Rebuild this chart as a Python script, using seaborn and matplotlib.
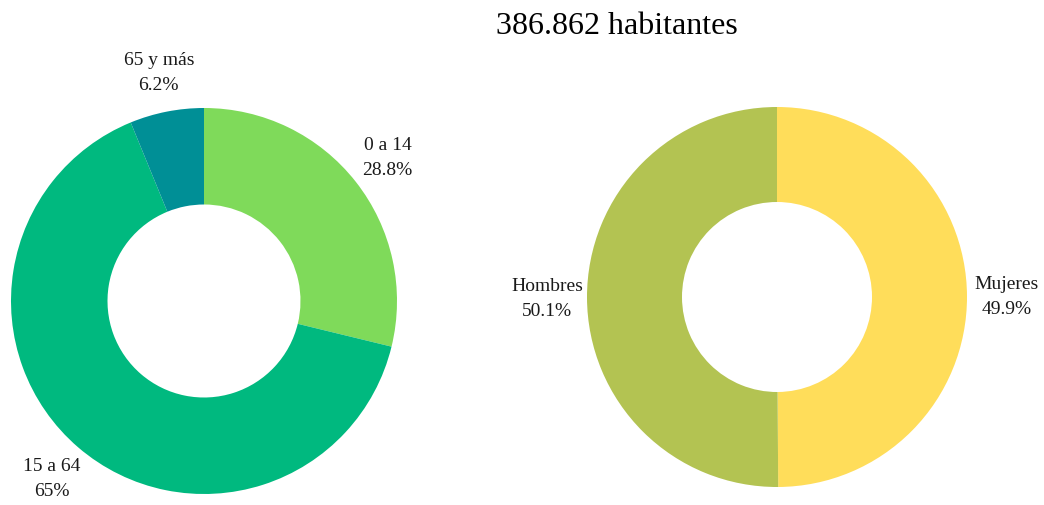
import matplotlib
matplotlib.use("Agg")
import matplotlib.pyplot as plt
import seaborn as sns

sns.set_theme(style="white")
plt.rcParams['font.family'] = ['Liberation Serif', 'DejaVu Serif']

title = "386.862 habitantes"

age_labels = ["0 a 14", "15 a 64", "65 y más"]
age_pct = [28.8, 65.0, 6.2]
age_pct_text = ["28.8%", "65%", "6.2%"]
age_colors = ["#7fda5a", "#00b97f", "#008f96"]

sex_labels = ["Mujeres", "Hombres"]
sex_pct = [49.9, 50.1]
sex_pct_text = ["49.9%", "50.1%"]
sex_colors = ["#ffdd5a", "#b3c352"]

W, H = 1044, 506
fig = plt.figure(figsize=(W / 100, H / 100), dpi=100)
fig.patch.set_facecolor("white")


def donut(cx, cy, r, values, labels, texts, colors):
    ax = fig.add_axes([(cx - r) / W, (H - cy - r) / H, 2 * r / W, 2 * r / H])
    wedges, lbls = ax.pie(
        values,
        labels=[f"{a}\n{b}" for a, b in zip(labels, texts)],
        colors=colors,
        startangle=90,
        counterclock=False,
        radius=1.0,
        labeldistance=1.21,
        wedgeprops=dict(width=0.5, linewidth=0),
        textprops=dict(fontsize=14, color="#1a1a1a", linespacing=1.6),
    )
    for t in lbls:
        t.set_horizontalalignment("center")
        t.set_verticalalignment("center")
    ax.set_xlim(-1, 1)
    ax.set_ylim(-1, 1)
    ax.set_aspect("equal")
    ax.axis("off")
    return ax


donut(204, 302, 193, age_pct, age_labels, age_pct_text, age_colors)
donut(777, 298, 190, sex_pct, sex_labels, sex_pct_text, sex_colors)

fig.text(617 / W, 1 - 27 / H, title, ha="center", va="center",
         fontsize=23, color="black")

fig.savefig("out.png", dpi=100, facecolor="white")
